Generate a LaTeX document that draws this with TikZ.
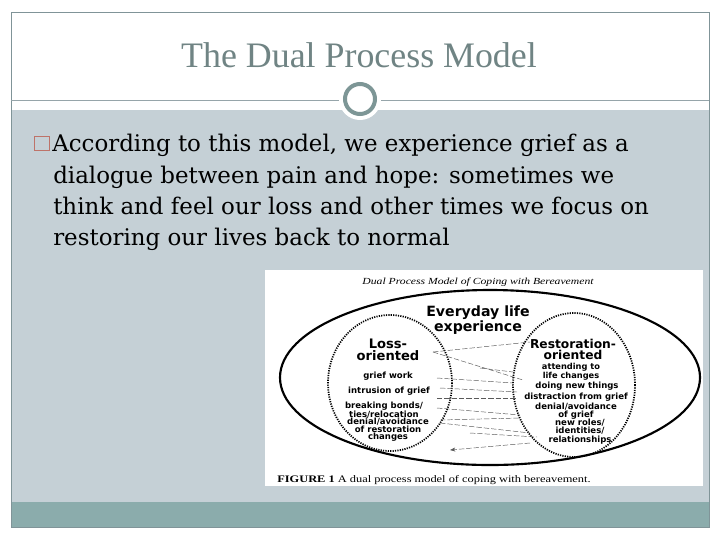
\documentclass[tikz,border=0pt]{standalone}
\usepackage{fontspec}
\setmainfont{Liberation Serif}
\newfontfamily\bodyfont{DejaVu Serif}
\newfontfamily\diagfont{DejaVu Sans Bold}
\usepackage{xcolor}
\usetikzlibrary{arrows.meta}

\definecolor{framegray}{RGB}{128,148,152}
\definecolor{linegray}{RGB}{150,165,170}
\definecolor{bodygray}{RGB}{197,208,214}
\definecolor{bandteal}{RGB}{139,172,172}
\definecolor{titlegray}{RGB}{112,132,132}
\definecolor{ringgray}{RGB}{125,150,150}
\definecolor{bulletred}{RGB}{190,115,105}

\tikzset{
  bodyline/.style={anchor=base west,inner sep=0pt,font=\bodyfont\fontsize{17.2}{20}\selectfont},
  smalllbl/.style={inner sep=0pt,align=center,font=\diagfont\fontsize{6.4}{4.9}\selectfont},
  biglbl/.style={inner sep=0pt,align=center,font=\diagfont\fontsize{9.8}{9}\selectfont},
  circlebound/.style={draw=black,line width=1.3pt,dash pattern=on 0.9pt off 0.9pt},
  link/.style={draw=black!65,line width=0.35pt,dash pattern=on 4pt off 1.5pt}
}

\begin{document}
\begin{tikzpicture}[x=0.75pt,y=0.75pt,yscale=-1,xscale=1]
\useasboundingbox (0,0) rectangle (720,540);
%Shape: Slide background
\fill[white] (0,0) rectangle (720,540);
\fill[bodygray] (11,110) rectangle (709,502);
\fill[bandteal] (11,502) rectangle (709,527);
\draw[framegray,line width=0.6pt] (11,12) rectangle (709,527);
%Straight Lines: header rule
\draw[linegray,line width=0.6pt] (11,100) -- (709,100);
%Shape: Circle on the rule
\fill[white] (360,99) circle [radius=21];
\draw[ringgray,line width=3pt] (360,99) circle [radius=15];

% Text Node
\node (title) at (359,55) [inner sep=0pt,text=titlegray,font=\fontsize{26.9}{30}\selectfont] {The Dual Process Model};

%Shape: Bullet box
\node (bullet) at (42,143.5) [draw=bulletred,line width=0.8pt,minimum width=11.5pt,minimum height=11pt,inner sep=0pt] {};
% Text Node
\node (line1) at (52,151) [bodyline] {According to this model, we experience grief as a};
\node (line2) at (53,183) [bodyline] {dialogue between pain and hope: sometimes we};
\node (line3) at (53,214) [bodyline] {think and feel our loss and other times we focus on};
\node (line4) at (53,245) [bodyline] {restoring our lives back to normal};

%Shape: Figure
\fill[white] (265,270) rectangle (703,486);
% Text Node
\node (fighead) at (478,282) [inner sep=0pt] {\scalebox{1.25}[1]{\fontsize{7}{8}\selectfont\itshape Dual Process Model of Coping with Bereavement}};
%Shape: Ellipse
\draw[black,line width=1.6pt] (490,377.5) ellipse [x radius=210,y radius=87.5];
%Shape: Dotted circles
\draw[circlebound] (390,383) ellipse [x radius=62,y radius=68];
\draw[circlebound] (574,385) ellipse [x radius=61,y radius=72];

% Text Node
\node (everyday) at (478,320) [biglbl,font=\diagfont\fontsize{10.6}{8.8}\selectfont] {Everyday life\\experience};
\node (loss) at (388,350) [biglbl] {Loss-\\oriented};
\node (griefwork) at (388,376) [smalllbl] {grief work};
\node (intrusion) at (389,391) [smalllbl] {intrusion of grief};
\node (breaking) at (384,410) [smalllbl,font=\diagfont\fontsize{6.4}{4.7}\selectfont] {breaking bonds/\\ties/relocation};
\node (denialL) at (388,430) [smalllbl,font=\diagfont\fontsize{6.4}{5.6}\selectfont] {denial/avoidance\\of restoration\\changes};
\node (restor) at (573,349.5) [biglbl,font=\diagfont\fontsize{9.2}{8.3}\selectfont] {Restoration-\\oriented};
\node (attending) at (571,372) [smalllbl,font=\diagfont\fontsize{6.2}{4.7}\selectfont] {attending to\\life changes};
\node (doingnew) at (577,386) [smalllbl] {doing new things};
\node (distraction) at (576,397) [smalllbl] {distraction from grief};
\node (denialR) at (576,411) [smalllbl,font=\diagfont\fontsize{6.4}{4.7}\selectfont] {denial/avoidance\\of grief};
\node (newroles) at (580,431.5) [smalllbl] {new roles/\\identities/\\relationships};

%Straight Lines: oscillation
\coordinate (a1) at (433,352); \coordinate (b1) at (530,342);
\coordinate (a2) at (433,352); \coordinate (b2) at (523,380);
\coordinate (a3) at (480,368); \coordinate (b3) at (513,372);
\coordinate (a4) at (437,378); \coordinate (b4) at (513,383);
\coordinate (a5) at (440,388); \coordinate (b5) at (517,392);
\coordinate (a6) at (437,398); \coordinate (b6) at (517,398);
\coordinate (a7) at (437,408); \coordinate (b7) at (520,415);
\coordinate (a8) at (440,420); \coordinate (b8) at (520,418);
\coordinate (a9) at (440,423); \coordinate (b9) at (530,433);
\coordinate (a10) at (470,433); \coordinate (b10) at (537,437);
\foreach \i in {1,...,10}
  \draw[link] (a\i) -- (b\i);
\coordinate (arrowstart) at (530,443);
\coordinate (arrowend) at (450,450);
\draw[link,-{Stealth[length=4pt,width=3pt]}] (arrowstart) -- (arrowend);

% Text Node
\node (caption) at (277,482) [anchor=base west,inner sep=0pt] {\scalebox{1.24}[1]{\fontsize{7.5}{8}\selectfont\textbf{FIGURE 1} A dual process model of coping with bereavement.}};
\end{tikzpicture}
\end{document}
